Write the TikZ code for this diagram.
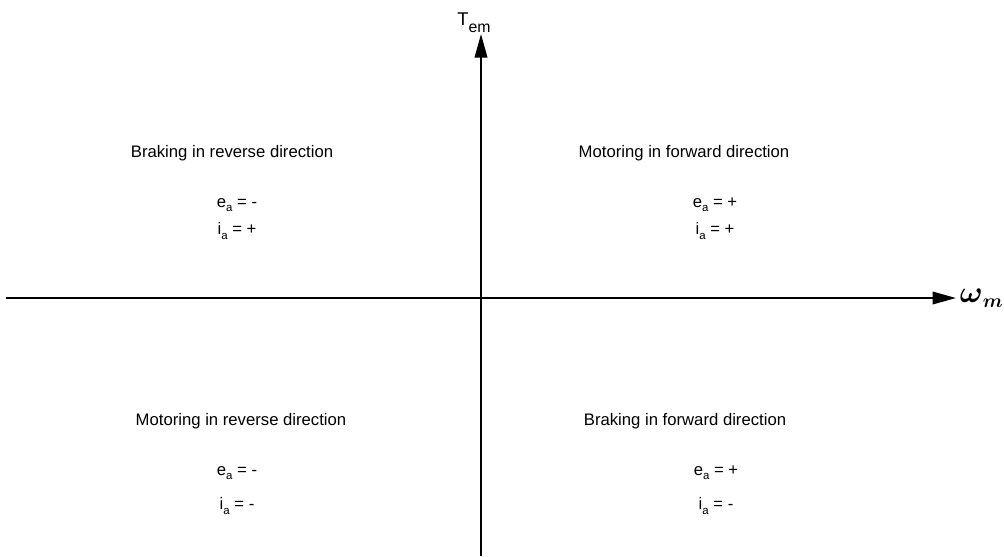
\documentclass[tikz,border=0pt]{standalone}
\usepackage{amsmath,amssymb}
\usepackage{fontspec}
\setmainfont{Liberation Sans}
\usetikzlibrary{arrows.meta,positioning}
\newcommand{\sub}[1]{\raisebox{-2.5pt}{\fontsize{6.5}{7}\selectfont #1}}

\begin{document}
\begin{tikzpicture}[x=0.02cm, y=-0.02cm, font=\fontsize{9.5}{11}\selectfont, >={Triangle[length=0.47cm,width=0.25cm]}]
\tikzset{axis/.style={->, line width=1.15pt}, quad/.style={inner sep=0pt}, sign/.style={inner sep=0pt}}
\useasboundingbox (0,0) rectangle (1004,556);
% axes
\coordinate (wL) at (6,298); \coordinate (wR) at (956,298);
\coordinate (tB) at (481,556); \coordinate (tT) at (481,34);
\draw[axis] (wL)--(wR); \draw[axis] (tB)--(tT);
\node[anchor=west, inner sep=2pt, font=\fontsize{16}{18}\selectfont] (wlab) at (wR) {$\boldsymbol{\omega}_{\boldsymbol{m}}$};
\node[anchor=base west, inner sep=0pt, font=\fontsize{10.5}{12}\selectfont] (tlab) at (457,25) {T\raisebox{-4.5pt}{\fontsize{9}{10}\selectfont em}};
% quadrants
\node[quad] (q2) at (232,153) {Braking in reverse direction};
\node[sign] (q2e) at (237,205) {e\sub{a} = -};
\node[sign] (q2i) at (237,231) {i\sub{a} = +};
\node[quad] (q1) at (684,153) {Motoring in forward direction};
\node[sign] (q1e) at (715,205) {e\sub{a} = +};
\node[sign] (q1i) at (715,231) {i\sub{a} = +};
\node[quad] (q3) at (241,421) {Motoring in reverse direction};
\node[sign] (q3e) at (237,473) {e\sub{a} = -};
\node[sign] (q3i) at (237,506) {i\sub{a} = -};
\node[quad] (q4) at (685,421) {Braking in forward direction};
\node[sign] (q4e) at (716,473) {e\sub{a} = +};
\node[sign] (q4i) at (716,506) {i\sub{a} = -};
\end{tikzpicture}
\end{document}
